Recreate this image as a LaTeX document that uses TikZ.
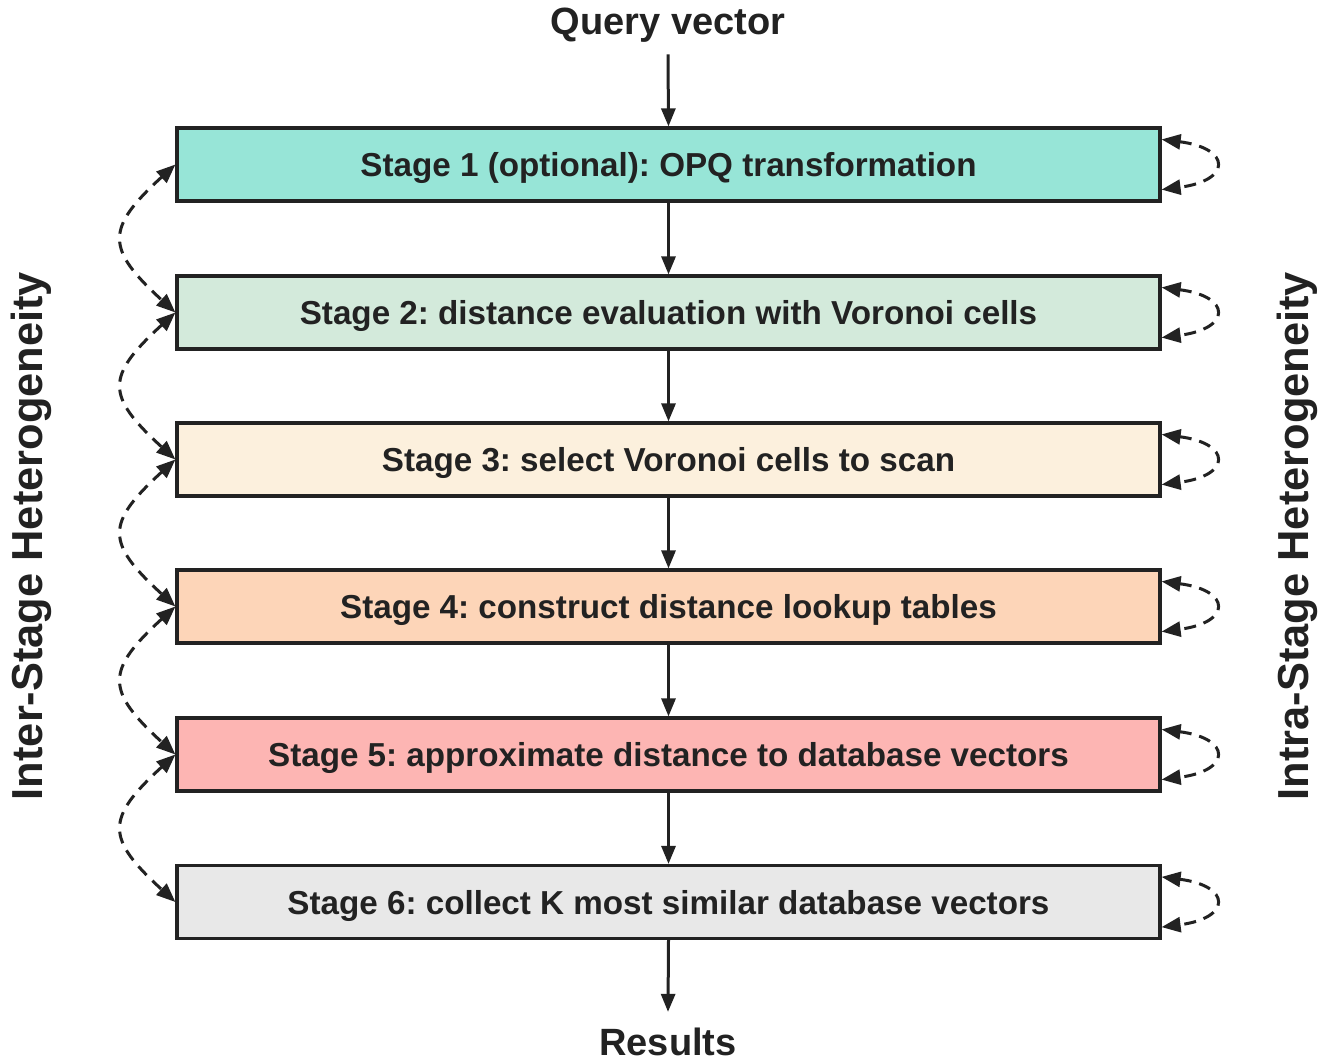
\documentclass[tikz,border=0pt]{standalone}
\usepackage{fontspec}
\setmainfont{Liberation Sans}
\usetikzlibrary{arrows.meta,calc}
\definecolor{ink}{HTML}{222222}
\definecolor{cA}{HTML}{97E5D7}
\definecolor{cB}{HTML}{D3EADB}
\definecolor{cC}{HTML}{FCF0DD}
\definecolor{cD}{HTML}{FDD5B8}
\definecolor{cE}{HTML}{FDB5B3}
\definecolor{cF}{HTML}{E8E8E8}
\tikzset{
  stagebox/.style={draw=ink, line width=3.2pt, minimum width=983pt, minimum height=73pt,
    inner sep=0pt, text=ink, text height=25pt, text depth=1pt,
    font=\fontsize{33.2}{38}\selectfont\bfseries},
  plain/.style={text=ink, font=\fontsize{38}{43}\selectfont\bfseries, inner sep=0pt},
  sidelabel/.style={text=ink, font=\fontsize{43.4}{48}\selectfont\bfseries, inner sep=0pt, rotate=90},
  flow/.style={draw=ink, line width=3pt, -{Triangle[length=18pt,width=14pt]}},
  hetero/.style={draw=ink, line width=3pt, dash pattern=on 12pt off 8pt,
    {Triangle[length=19pt,width=15pt]}-{Triangle[length=19pt,width=15pt]}}
}
\begin{document}
\frenchspacing
\begin{tikzpicture}[x=1pt,y=-1pt]
\useasboundingbox (0,0) rectangle (1322,1061);
\fill[white] (0,0) rectangle (1322,1061);

\node[plain] (q) at (668,25) {Query vector};
\node[plain] (r) at (668,1042) {Results};

\node[stagebox, fill=cA] (s1) at (668.5,164.5) {Stage 1 (optional): OPQ transformation};
\node[stagebox, fill=cB] (s2) at (668.5,312.5) {Stage 2: distance evaluation with Voronoi cells};
\node[stagebox, fill=cC] (s3) at (668.5,459.5) {Stage 3: select Voronoi cells to scan};
\node[stagebox, fill=cD] (s4) at (668.5,606.5) {Stage 4: construct distance lookup tables};
\node[stagebox, fill=cE] (s5) at (668.5,754.5) {Stage 5: approximate distance to database vectors};
\node[stagebox, fill=cF] (s6) at (668.5,902) {Stage 6: collect K most similar database vectors};

\node[sidelabel] (inter) at (31,536) {Inter-Stage Heterogeneity};
\node[sidelabel] (intra) at (1297,536) {Intra-Stage Heterogeneity};

% main pipeline
\draw[flow] ($(q.south)+(0,12)$) -- (s1.north);
\foreach \a/\b in {s1/s2,s2/s3,s3/s4,s4/s5,s5/s6}
  \draw[flow] (\a.south) -- (\b.north);
\draw[flow] (s6.south) -- ($(r.north)+(0,-16)$);

% dashed arcs between neighbouring stages
\foreach \a/\b in {s1/s2,s2/s3,s3/s4,s4/s5,s5/s6}
  \draw[hetero] (\a.west) .. controls ($(\a.west)+(-70,64)$) and ($(\b.west)+(-70,-64)$) .. (\b.west);

% dashed self loops on each stage
\foreach \s in {s1,s2,s3,s4,s5,s6}
  \draw[hetero] ($(\s.north east)+(0,13)$) .. controls ($(\s.north east)+(70,22)$) and ($(\s.south east)+(70,-22)$) .. ($(\s.south east)+(0,-13)$);
\end{tikzpicture}
\end{document}
